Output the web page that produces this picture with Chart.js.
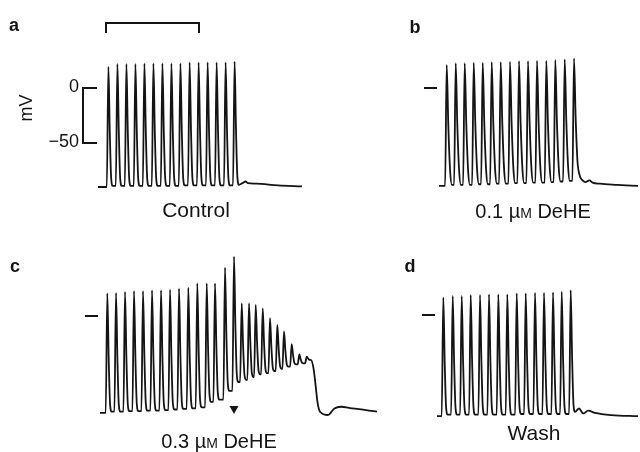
<!DOCTYPE html>
<html>
<head>
<meta charset="utf-8">
<script src="https://cdn.jsdelivr.net/npm/chart.js@4/dist/chart.umd.min.js"></script>
<style>
  body { margin: 0; background: #fff; }
  #fig { position: relative; width: 640px; height: 452px; }
  #fig canvas { position: absolute; left: 0; top: 0; }
</style>
</head>
<body>
<div id="fig">
  <canvas id="panelA" width="640" height="452"></canvas>
  <canvas id="panelB" width="640" height="452"></canvas>
  <canvas id="panelC" width="640" height="452"></canvas>
  <canvas id="panelD" width="640" height="452"></canvas>
</div>
<script>
// Data (time in ms from start of each sweep, voltage in mV)

// a - Control
const ctrlSpikeMs = [52, 97, 142, 187, 232, 277, 322, 367, 412, 458, 503, 548, 593, 638, 683];
const ctrlPeakMv = [19.4, 21.8, 21.8, 21.8, 22.4, 22.4, 22.4, 22.4, 22.4, 23.3, 23.3, 23.3, 23.3, 23.3, 24];
const ctrlTroughMv = [-90, -89, -89, -89, -89, -89, -89, -89, -89, -88.5, -88.5, -88.5, -88.5, -88.5, -88.5, -88];
const ctrlTailMs = [722, 738, 750, 790, 900, 1020];
const ctrlTailMv = [-86.5, -85, -86.5, -87, -88.5, -89.5];

// b - 0.1 uM DeHE
const lowSpikeMs = [38.5, 83.5, 128.5, 173.5, 218.5, 263.5, 308.5, 355, 400, 445, 490, 536.5, 581.5, 628.5, 675];
const lowPeakMv = [20.9, 22.5, 22.5, 23, 23, 23.6, 23.6, 23.9, 24.5, 24.5, 24.8, 24.8, 25.5, 26, 27];
const lowTroughMv = [-89, -88, -88, -88, -87.5, -87.5, -87, -87, -86.5, -86.5, -86, -86, -85.5, -85, -84.5, -78];
const lowTailMs = [718, 733, 752, 768, 805, 890, 995];
const lowTailMv = [-84, -85.5, -84, -86, -87, -88, -89];

// c - 0.3 uM DeHE
const highSpikeMs = [36.5, 80, 125, 170, 215, 260, 305, 350, 395, 441.5, 486.5, 533.5, 575, 625, 670,
  708.5, 745, 778.5, 813.5, 850, 886.5, 920, 958.5, 996.5, 1033.5];
const highPeakMv = [20.6, 21, 22, 22.7, 22.7, 23.4, 23.4, 24, 25, 25.7, 29.7, 29.7, 29.7, 44, 54,
  11.5, 11.5, 10, 7, -2, -8, -14, -25.5, -35, -37];
const highTroughMv = [-88, -87, -87, -86.5, -86.5, -86, -86, -85.5, -85, -84.5, -84, -83, -78, -76, -68, -60,
  -58, -55.5, -53, -52, -50, -48, -46, -44, -43, -40];
const highTailMs = [1068, 1078, 1088, 1100, 1140, 1172, 1205, 1260, 1330, 1385];
const highTailMv = [-48, -63, -79, -87, -90, -84, -82.5, -84, -85.5, -87];

// d - Wash
const washSpikeMs = [31.5, 78.5, 123.5, 168.5, 215, 260, 306.5, 351.5, 398.5, 443.5, 490, 535, 580, 623.5, 668.5];
const washPeakMv = [16, 17.3, 17.3, 18.2, 18.2, 18.8, 18.8, 18.8, 19.7, 19.7, 20.3, 20.3, 20.6, 21.2, 22.7];
const washTroughMv = [-92, -90.5, -90.5, -90.5, -90.5, -90.5, -90.5, -90.5, -90.5, -90, -90, -90, -90, -90, -90, -88];
const washTailMs = [710, 731, 756, 790, 873, 1005];
const washTailMv = [-85, -89.5, -87, -89, -91, -92];

// spike waveform: offsets from peak (ms) and fraction of spike height above trough
const fastShapeMs = [-8, 0, 7, 14, 22];
const fastShapeFrac = [0, 1, 0.45, 0.06, 0];
const slowShapeMs = [-8, 0, 8, 17, 26];
const slowShapeFrac = [0, 1, 0.5, 0.12, 0];

// annotations
const voltScaleMv = [0, -50];
const timeBarMs = [40, 505];
const arrowMs = 670;
const panelLetters = ['a', 'b', 'c', 'd'];

const INK = '#141414';
const FONT = '"Liberation Sans", Arial, sans-serif';

function buildTrace(spikeMs, peakMv, troughMv, tailMs, tailMv, shapeMs, shapeFrac) {
    const pts = [{x: 0, y: troughMv[0]}];
    spikeMs.forEach((t, i) => {
        shapeMs.forEach((dt, k) => {
            const base = dt < 0 ? troughMv[i] : troughMv[i + 1];
            pts.push({x: t + dt, y: base + shapeFrac[k] * (peakMv[i] - base)});
        });
    });
    tailMs.forEach((t, i) => pts.push({x: t, y: tailMv[i]}));
    return pts;
}

// caption with the small-capital M of "µM"
function drawCaption(ctx, parts, cx, cy) {
    ctx.textBaseline = 'alphabetic';
    ctx.textAlign = 'left';
    let w = 0;
    parts.forEach(p => { ctx.font = p[1] + 'px ' + FONT; w += ctx.measureText(p[0]).width; });
    let x = cx - w / 2;
    parts.forEach(p => {
        ctx.font = p[1] + 'px ' + FONT;
        ctx.fillText(p[0], x, cy);
        x += ctx.measureText(p[0]).width;
    });
}

function letter(ctx, txt, x, y) {
    ctx.font = 'bold 18px ' + FONT;
    ctx.textAlign = 'center';
    ctx.textBaseline = 'middle';
    ctx.fillText(txt, x, y);
}

function zeroDash(chart) {
    const ctx = chart.ctx, a = chart.chartArea;
    const y = Math.round(chart.scales.y.getPixelForValue(0));
    ctx.fillRect(a.left - 15, y - 1, 13, 2);
}

const decorations = {
    a(chart) {
        const ctx = chart.ctx, xs = chart.scales.x, ys = chart.scales.y, a = chart.chartArea;
        // time bracket
        const x1 = xs.getPixelForValue(timeBarMs[0]), x2 = xs.getPixelForValue(timeBarMs[1]);
        const yTop = ys.getPixelForValue(60) + 1, yLeg = ys.getPixelForValue(50);
        ctx.lineWidth = 2;
        ctx.beginPath();
        ctx.moveTo(x1, yLeg); ctx.lineTo(x1, yTop); ctx.lineTo(x2, yTop); ctx.lineTo(x2, yLeg);
        ctx.stroke();
        // voltage scale bar
        const yA = ys.getPixelForValue(voltScaleMv[0]), yB = ys.getPixelForValue(voltScaleMv[1]);
        const bx = a.left - 15;
        ctx.beginPath();
        ctx.moveTo(a.left - 1, yA); ctx.lineTo(bx, yA); ctx.lineTo(bx, yB); ctx.lineTo(a.left - 1, yB);
        ctx.stroke();
        ctx.font = '18px ' + FONT;
        ctx.textAlign = 'right';
        ctx.textBaseline = 'middle';
        ctx.fillText(String(voltScaleMv[0]), bx - 4, yA - 1);
        ctx.fillText('\u2212' + Math.abs(voltScaleMv[1]), bx - 4, yB - 1);
        ctx.save();
        ctx.translate(27, 108);
        ctx.rotate(-Math.PI / 2);
        ctx.textAlign = 'center';
        ctx.fillText('mV', 0, 0);
        ctx.restore();
        letter(ctx, panelLetters[0], 14, 26);
        drawCaption(ctx, [['Control', 21]], 196, 217);
    },
    b(chart) {
        zeroDash(chart);
        letter(chart.ctx, panelLetters[1], 415, 28);
        drawCaption(chart.ctx, [['0.1 \u00b5', 20], ['M', 14], [' DeHE', 20]], 533, 218);
    },
    c(chart) {
        const ctx = chart.ctx;
        zeroDash(chart);
        const ax = chart.scales.x.getPixelForValue(arrowMs);
        ctx.beginPath();
        ctx.moveTo(ax - 4.5, 406); ctx.lineTo(ax + 4.5, 406); ctx.lineTo(ax, 414);
        ctx.closePath();
        ctx.fill();
        letter(ctx, panelLetters[2], 15, 267);
        drawCaption(ctx, [['0.3 \u00b5', 20], ['M', 14], [' DeHE', 20]], 219, 448);
    },
    d(chart) {
        zeroDash(chart);
        letter(chart.ctx, panelLetters[3], 410, 267);
        drawCaption(chart.ctx, [['Wash', 21]], 534, 440);
    }
};

function makePanel(id, key, points, xMax, area) {
    const deco = {
        id: 'deco_' + key,
        afterDraw(chart) {
            const ctx = chart.ctx;
            ctx.save();
            ctx.fillStyle = INK;
            ctx.strokeStyle = INK;
            decorations[key](chart);
            ctx.restore();
        }
    };
    return new Chart(document.getElementById(id), {
        type: 'line',
        data: {
            datasets: [{
                data: points,
                borderColor: INK,
                borderWidth: 1.8,
                pointRadius: 0,
                fill: false,
                cubicInterpolationMode: 'monotone',
                clip: false
            }]
        },
        options: {
            responsive: false,
            animation: false,
            devicePixelRatio: 1,
            events: [],
            layout: {padding: {left: area[0], right: 640 - area[1], top: area[2], bottom: 452 - area[3]}},
            plugins: {legend: {display: false}, tooltip: {enabled: false}},
            scales: {
                x: {type: 'linear', min: 0, max: xMax, display: false},
                y: {type: 'linear', min: -100, max: 60, display: false}
            }
        },
        plugins: [deco]
    });
}

makePanel('panelA', 'a', buildTrace(ctrlSpikeMs, ctrlPeakMv, ctrlTroughMv, ctrlTailMs, ctrlTailMv, fastShapeMs, fastShapeFrac), 1020, [98, 302, 22, 198]);
makePanel('panelB', 'b', buildTrace(lowSpikeMs, lowPeakMv, lowTroughMv, lowTailMs, lowTailMv, slowShapeMs, slowShapeFrac), 995, [439, 638, 22, 198]);
makePanel('panelC', 'c', buildTrace(highSpikeMs, highPeakMv, highTroughMv, highTailMs, highTailMv, fastShapeMs, fastShapeFrac), 1385, [100, 377, 250, 426]);
makePanel('panelD', 'd', buildTrace(washSpikeMs, washPeakMv, washTroughMv, washTailMs, washTailMv, fastShapeMs, fastShapeFrac), 1005, [437, 638, 249, 425]);
</script>
</body>
</html>
